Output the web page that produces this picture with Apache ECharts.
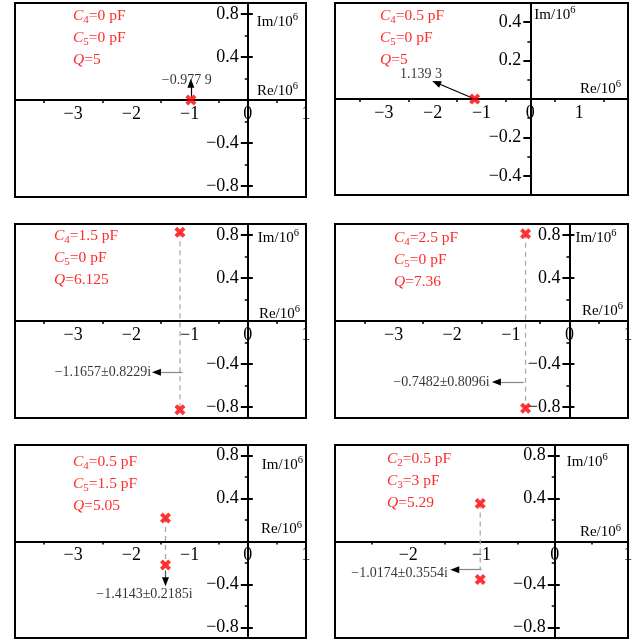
<!DOCTYPE html>
<html>
<head>
<meta charset="utf-8">
<script src="https://cdn.jsdelivr.net/npm/echarts@6/dist/echarts.min.js"></script>
<style>
  html, body { margin: 0; padding: 0; background: #fff; }
  #chart { width: 632px; height: 640px; }
</style>
</head>
<body>
<div id="chart"></div>
<script>
// Pole positions for the six filter configurations (Re and Im in units of 10^6)
const poleRe = [-0.9779, -1.1393, -1.1657, -0.7482, -1.4143, -1.0174];
const poleIm = [0, 0, 0.8229, 0.8096, 0.2185, 0.3554];
const poleLabels = ['\u22120.977 9', '1.139 3', '\u22121.1657\u00b10.8229i', '\u22120.7482\u00b10.8096i',
                    '\u22121.4143\u00b10.2185i', '\u22121.0174\u00b10.3554i'];

// Component settings written in each panel
const capIndex = [['4', '5'], ['4', '5'], ['4', '5'], ['4', '5'], ['4', '5'], ['2', '3']];
const capValue = [['0', '0'], ['0.5', '0'], ['1.5', '0'], ['2.5', '0'], ['0.5', '1.5'], ['0.5', '3']];
const qValue = ['5', '5', '6.125', '7.36', '5.05', '5.29'];

// Tick labels
const xTickLabels = [[-3, -2, -1, 0, 1], [-3, -2, -1, 0, 1], [-3, -2, -1, 0, 1],
                     [-3, -2, -1, 0, 1], [-3, -2, -1, 0, 1], [-2, -1, 0, 1]];
const yTickLabels = [[-0.8, -0.4, 0.4, 0.8], [-0.4, -0.2, 0.2, 0.4], [-0.8, -0.4, 0.4, 0.8],
                     [-0.8, -0.4, 0.4, 0.8], [-0.8, -0.4, 0.4, 0.8], [-0.8, -0.4, 0.4, 0.8]];
const xMinorTicks = [[-3.5, -2.5, -1.5, -0.5, 0.5], [-3.5, -2.5, -1.5, -0.5, 0.5, 1.5], [-3.5, -2.5, -1.5, -0.5, 0.5],
                     [-3.5, -2.5, -1.5, -0.5, 0.5], [-3.5, -2.5, -1.5, -0.5, 0.5], [-2.5, -1.5, -0.5, 0.5]];
const yMinorTicks = [[-0.6, -0.2, 0.2, 0.6], [-0.3, -0.1, 0.1, 0.3], [-0.6, -0.2, 0.2, 0.6],
                     [-0.6, -0.2, 0.2, 0.6], [-0.6, -0.2, 0.2, 0.6], [-0.6, -0.2, 0.2, 0.6]];

const SERIF = '"Liberation Serif", "Times New Roman", serif';
const RED = '#ff2b2b';
const MARK_RED = '#ff0000';

// Panel geometry and annotation placement
const panels = [
  { left: 15, top: 3, width: 291, height: 194, x: [-4, 1], y: 0.9, cross: true,
    im: { gap: 19, pad: 9 }, re: { gap: 8, lift: 9 }, text: { x: 73, y: 16 },
    arrow: { from: [null, 0.03], to: [null, 0.155], stem: '#000' },
    note: { at: [-1.05, 0.18], align: 'center' }, guideEnd: null },
  { left: 335, top: 3, width: 293, height: 192, x: [-4, 2], y: 0.5, cross: false,
    im: { gap: 12, pad: 4 }, re: { gap: 7, lift: 10 }, text: { x: 380, y: 16 },
    arrow: { from: [null, 0], to: [-1.925, 0.085], stem: '#000' },
    note: { at: [-2.24, 0.128], align: 'center' }, guideEnd: null },
  { left: 15, top: 224, width: 291, height: 194, x: [-4, 1], y: 0.9, cross: true,
    im: { gap: 14, pad: 10 }, re: { gap: 6, lift: 7 }, text: { x: 54, y: 236 },
    arrow: { from: [-1.125, -0.475], to: [-1.57, -0.475], stem: '#888' },
    note: { at: [-1.66, -0.475], align: 'right' }, guideEnd: 'mirror' },
  { left: 335, top: 224, width: 293, height: 194, x: [-4, 1], y: 0.9, cross: true,
    im: { gap: 14, pad: 6 }, re: { gap: 5, lift: 10 }, text: { x: 394, y: 238 },
    arrow: { from: [-0.78, -0.567], to: [-1.246, -0.567], stem: '#888' },
    note: { at: [-1.36, -0.567], align: 'right' }, guideEnd: 'mirror' },
  { left: 15, top: 445, width: 291, height: 193, x: [-4, 1], y: 0.9, cross: true,
    im: { gap: 20, pad: 14 }, re: { gap: 4, lift: 12 }, text: { x: 73, y: 462 },
    arrow: { from: [null, -0.27], to: [null, -0.376], stem: '#555' },
    note: { at: [-1.775, -0.49], align: 'center' }, guideEnd: 'mirror' },
  { left: 335, top: 445, width: 293, height: 193, x: [-3, 1], y: 0.9, cross: true,
    im: { gap: 17, pad: 12 }, re: { gap: 7, lift: 9 }, text: { x: 387, y: 459 },
    arrow: { from: [-1.0, -0.263], to: [-1.365, -0.263], stem: '#888' },
    note: { at: [-1.46, -0.30], align: 'right' }, guideEnd: -0.263 }
];

// bold cross used for the pole markers
const CROSS = 'path://M0,3 L3,0 L6,3 L9,0 L12,3 L9,6 L12,9 L9,12 L6,9 L3,12 L0,9 L3,6 Z';

function fmt(v) {
  return v < 0 ? '\u2212' + String(-v) : String(v);
}

const superRich = {
  n: { fontFamily: SERIF, fontSize: 15, color: '#000', lineHeight: 20 },
  s: { fontFamily: SERIF, fontSize: 10.5, color: '#000', lineHeight: 12, verticalAlign: 'top' }
};

const grid = [], xAxis = [], yAxis = [], series = [], graphic = [];

panels.forEach((p, i) => {
  grid.push({ left: p.left, top: p.top, width: p.width, height: p.height,
              show: true, borderColor: '#000', borderWidth: 2, backgroundColor: 'transparent',
              containLabel: false, outerBoundsMode: 'none' });

  // the axes cross at the origin: shift each one from the grid edge to the zero line
  const xShift = -p.height * (0 - (-p.y)) / (2 * p.y);
  const yShift = -p.width * (0 - p.x[0]) / (p.x[1] - p.x[0]);

  xAxis.push({
    type: 'value', gridIndex: i, min: p.x[0], max: p.x[1], position: 'bottom', offset: xShift,
    splitLine: { show: false },
    axisLine: { show: true, onZero: false, lineStyle: { color: '#000', width: 2 } },
    axisTick: { show: true, customValues: xMinorTicks[i], length: 3, lineStyle: { color: '#000', width: 1.5 } },
    axisLabel: { show: true, customValues: xTickLabels[i], formatter: fmt, margin: 5,
                 fontFamily: SERIF, fontSize: 18, color: '#000' },
    name: '{n|Re/10}{s|6}', nameLocation: 'end', nameGap: -p.re.gap, nameMoveOverlap: false,
    nameTextStyle: { align: 'right', verticalAlign: 'middle', padding: [0, 0, 2 * p.re.lift, 0], rich: superRich }
  });

  const yBase = {
    type: 'value', gridIndex: i, min: -p.y, max: p.y, position: 'left', offset: yShift,
    splitLine: { show: false }
  };
  const mainIdx = yAxis.length;
  yAxis.push(Object.assign({}, yBase, {
    axisLine: { show: true, onZero: false, lineStyle: { color: '#000', width: 2 } },
    axisTick: { show: true, customValues: yTickLabels[i], length: 7, lineStyle: { color: '#000', width: 2 } },
    axisLabel: { show: true, customValues: yTickLabels[i], formatter: fmt, margin: 9,
                 fontFamily: SERIF, fontSize: 18, color: '#000' },
    name: '{n|Im/10}{s|6}', nameLocation: 'end', nameGap: -p.im.gap, nameMoveOverlap: false,
    nameTextStyle: { align: 'left', verticalAlign: 'middle', padding: [0, 0, 0, p.im.pad], rich: superRich }
  }));
  if (p.cross) {
    // right-hand half of the major ticks
    yAxis.push(Object.assign({}, yBase, {
      axisLine: { show: false, onZero: false },
      axisTick: { show: true, inside: true, customValues: yTickLabels[i], length: 5, lineStyle: { color: '#000', width: 2 } },
      axisLabel: { show: false }
    }));
  }
  // minor ticks on the imaginary axis
  yAxis.push(Object.assign({}, yBase, {
    axisLine: { show: false, onZero: false },
    axisTick: { show: true, customValues: yMinorTicks[i], length: 3, lineStyle: { color: '#000', width: 1.5 } },
    axisLabel: { show: false }
  }));

  const re = poleRe[i], im = poleIm[i];
  const pts = im === 0 ? [[re, 0]] : [[re, im], [re, -im]];

  // dashed guide joining the conjugate pair
  if (p.guideEnd !== null) {
    const endY = p.guideEnd === 'mirror' ? -im : p.guideEnd;
    series.push({
      type: 'line', xAxisIndex: i, yAxisIndex: mainIdx, data: [[re, im], [re, endY]],
      symbol: 'none', silent: true, animation: false, z: 3,
      lineStyle: { color: '#aaaaaa', width: 1.3, type: [5, 4] }
    });
  }

  // arrow and value label
  const from = [p.arrow.from[0] === null ? re : p.arrow.from[0], p.arrow.from[1]];
  const to = [p.arrow.to[0] === null ? re : p.arrow.to[0], p.arrow.to[1]];
  series.push({
    type: 'scatter', xAxisIndex: i, yAxisIndex: mainIdx, data: [p.note.at],
    symbolSize: 0, silent: true, animation: false, z: 4,
    label: { show: true, position: [0, 0], align: p.note.align, verticalAlign: 'middle',
             formatter: poleLabels[i], fontFamily: SERIF, fontSize: 14, color: '#000' },
    markLine: {
      silent: true, animation: false, symbol: ['none', 'none'], precision: 6,
      label: { show: false },
      data: [
        [{ coord: from, lineStyle: { color: p.arrow.stem, width: 1.2, type: 'solid' } },
         { coord: to }],
        [{ coord: [to[0] + (from[0] - to[0]) * 0.02, to[1] + (from[1] - to[1]) * 0.02], symbol: 'none',
           lineStyle: { color: '#000', width: 1, type: 'solid' } },
         { coord: to, symbol: 'triangle', symbolSize: [7, 9] }]
      ]
    }
  });

  // poles
  series.push({
    type: 'scatter', xAxisIndex: i, yAxisIndex: mainIdx, data: pts,
    symbol: CROSS, symbolSize: 11, silent: true, animation: false, z: 5,
    itemStyle: { color: MARK_RED }
  });

  // component values
  const rich = {
    i: { fontFamily: SERIF, fontSize: 15.5, fontStyle: 'italic', fill: RED, lineHeight: 19 },
    s: { fontFamily: SERIF, fontSize: 11, fill: RED, lineHeight: 11, verticalAlign: 'bottom' },
    n: { fontFamily: SERIF, fontSize: 15.5, fill: RED, lineHeight: 19 }
  };
  const lines = [
    '{i|C}{s|' + capIndex[i][0] + '}{n|=' + capValue[i][0] + ' pF}',
    '{i|C}{s|' + capIndex[i][1] + '}{n|=' + capValue[i][1] + ' pF}',
    '{i|Q}{n|=' + qValue[i] + '}'
  ];
  lines.forEach((t, k) => {
    graphic.push({
      type: 'text', x: p.text.x, y: p.text.y + 22 * k, silent: true, z: 10,
      style: { text: t, rich: rich, fill: RED, align: 'left', verticalAlign: 'middle' }
    });
  });
});

const chart = echarts.init(document.getElementById('chart'), null, { renderer: 'canvas' });
chart.setOption({
  animation: false,
  backgroundColor: '#fff',
  grid, xAxis, yAxis, series, graphic
});
</script>
</body>
</html>
